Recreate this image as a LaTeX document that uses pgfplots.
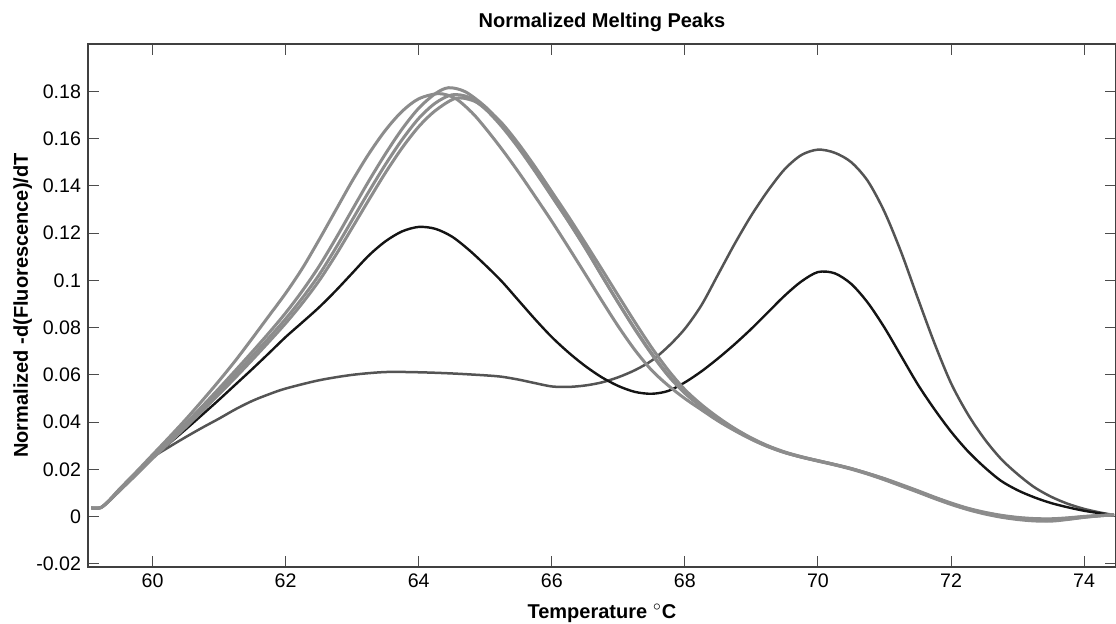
\documentclass[border=0pt]{standalone}
\usepackage{fontspec}
\setmainfont{Liberation Sans}
\usepackage{pgfplots}
\pgfplotsset{compat=1.18}

\definecolor{lightcurve}{gray}{0.55}
\definecolor{darkcurve}{gray}{0.33}
\definecolor{blackcurve}{gray}{0.08}

\begin{document}
\begin{tikzpicture}
\begin{axis}[
  scale only axis,
  width=514pt, height=261.5pt,
  xmin=59.03, xmax=74.48,
  ymin=-0.0213, ymax=0.2,
  xtick={60,62,...,74},
  ytick={-0.02,0,0.02,0.04,0.06,0.08,0.1,0.12,0.14,0.16,0.18},
  yticklabels={-0.02,0,0.02,0.04,0.06,0.08,0.1,0.12,0.14,0.16,0.18},
  /pgf/number format/assume math mode=true,
  tick label style={font=\fontsize{9.8}{11}\selectfont},
  tick align=inside,
  xtick pos=both, ytick pos=both,
  major tick length=5.5pt,
  every tick/.style={black!70, line width=0.5pt},
  axis line style={black!75, line width=0.6pt},
  title={Normalized Melting Peaks},
  title style={font=\bfseries\fontsize{10}{12}\selectfont, at={(axis description cs:0.5,1.0325)}, anchor=base, yshift=-6pt},
  xlabel={Temperature $^{\circ}$C},
  xlabel style={font=\bfseries\fontsize{10}{12}\selectfont, at={(axis description cs:0.5,-0.0975)}, anchor=base},
  ylabel={Normalized -d(Fluorescence)/dT},
  ylabel style={font=\bfseries\fontsize{10}{12}\selectfont, at={(axis description cs:-0.0584,0.5)}, anchor=base},
  every axis plot/.append style={smooth, tension=0.5},
  clip=true,
]

% two-peak sample, dark gray
\addplot[darkcurve, line width=1.25pt] coordinates {
 (59.08,0.0037) (59.22,0.0038) (59.35,0.0068) (59.5,0.0110) (59.75,0.0180)
 (60.0,0.0250) (60.25,0.0295) (60.5,0.0337) (60.75,0.0377) (61.0,0.0415)
 (61.25,0.0455) (61.5,0.0490) (61.75,0.0518) (62.0,0.0542) (62.5,0.0577)
 (63.0,0.0600) (63.5,0.0612) (64.0,0.0611) (64.5,0.0606) (65.0,0.0598)
 (65.25,0.0592) (65.5,0.0580) (65.75,0.0565) (66.0,0.0551) (66.25,0.0549)
 (66.5,0.0555) (66.75,0.0568) (67.0,0.0590) (67.25,0.0620) (67.5,0.0660)
 (67.75,0.0720) (68.0,0.0795) (68.25,0.0895) (68.5,0.1025) (68.75,0.1155)
 (69.0,0.1275) (69.25,0.1380) (69.5,0.1470) (69.75,0.1530) (70.0,0.1553)
 (70.25,0.1540) (70.5,0.1500) (70.75,0.1420) (71.0,0.1290) (71.25,0.1120)
 (71.5,0.0925) (71.75,0.0735) (72.0,0.0565) (72.25,0.0435) (72.5,0.0330)
 (72.75,0.0245) (73.0,0.0180) (73.25,0.0125) (73.5,0.0085) (73.75,0.0055)
 (74.0,0.0033) (74.25,0.0017) (74.45,0.0007)
};

% two-peak sample, black
\addplot[blackcurve, line width=1.2pt] coordinates {
 (59.08,0.0037) (59.22,0.0038) (59.35,0.0068) (59.5,0.0110) (59.75,0.0180)
 (60.0,0.0250) (60.25,0.0310) (60.5,0.0370) (60.75,0.0432) (61.0,0.0495)
 (61.25,0.0560) (61.5,0.0625) (61.75,0.0692) (62.0,0.0760) (62.25,0.0822)
 (62.5,0.0885) (62.75,0.0955) (63.0,0.1030) (63.25,0.1105) (63.5,0.1165)
 (63.75,0.1207) (64.0,0.1226) (64.25,0.1218) (64.5,0.1185) (64.75,0.1130)
 (65.0,0.1065) (65.25,0.0995) (65.5,0.0915) (65.75,0.0835) (66.0,0.0760)
 (66.25,0.0695) (66.5,0.0638) (66.75,0.0590) (67.0,0.0553) (67.25,0.0528)
 (67.5,0.0520) (67.75,0.0532) (68.0,0.0568) (68.25,0.0615) (68.5,0.0670)
 (68.75,0.0730) (69.0,0.0795) (69.25,0.0865) (69.5,0.0935) (69.75,0.0995)
 (70.0,0.1035) (70.25,0.1030) (70.5,0.0985) (70.75,0.0905) (71.0,0.0800)
 (71.25,0.0680) (71.5,0.0560) (71.75,0.0455) (72.0,0.0360) (72.25,0.0278)
 (72.5,0.0210) (72.75,0.0152) (73.0,0.0112) (73.25,0.0082) (73.5,0.0058)
 (73.75,0.0040) (74.0,0.0025) (74.25,0.0014) (74.45,0.0007)
};

% single-peak samples, light gray
\addplot[lightcurve, line width=1.5pt] coordinates {
 (59.08,0.0037) (59.22,0.0038) (59.35,0.0070) (59.5,0.0116) (59.75,0.0188)
 (60.0,0.0262) (60.25,0.0336) (60.5,0.0412) (60.75,0.0492) (61.0,0.0575)
 (61.25,0.0662) (61.5,0.0755) (61.75,0.0850) (62.0,0.0945) (62.25,0.1050)
 (62.5,0.1170) (62.75,0.1295) (63.0,0.1420) (63.25,0.1535) (63.5,0.1635)
 (63.75,0.1715) (64.0,0.1768) (64.3,0.1790) (64.55,0.1770) (64.8,0.1710)
 (65.0,0.1645) (65.25,0.1555) (65.5,0.1458) (65.75,0.1355) (66.0,0.1250)
 (66.25,0.1140) (66.5,0.1028) (66.75,0.0915) (67.0,0.0805) (67.25,0.0705)
 (67.5,0.0620) (67.75,0.0555) (68.0,0.0500) (68.25,0.0452) (68.5,0.0405)
 (68.75,0.0364) (69.0,0.0327) (69.25,0.0296) (69.5,0.0271) (69.75,0.0252)
 (70.0,0.0236) (70.25,0.0220) (70.5,0.0203) (70.75,0.0183) (71.0,0.0161)
 (71.25,0.0136) (71.5,0.0110) (71.75,0.0083) (72.0,0.0058) (72.25,0.0036)
 (72.5,0.0019) (72.75,0.0006) (73.0,-0.0003) (73.25,-0.0008) (73.5,-0.0009)
 (73.75,-0.0005) (74.0,0.0001) (74.25,0.0005) (74.45,0.0008)
};
\addplot[lightcurve, line width=1.5pt] coordinates {
 (59.08,0.0037) (59.22,0.0038) (59.35,0.0069) (59.5,0.0114) (59.75,0.0184)
 (60.0,0.0255) (60.25,0.0324) (60.5,0.0395) (60.75,0.0468) (61.0,0.0543)
 (61.25,0.0620) (61.5,0.0698) (61.75,0.0778) (62.0,0.0862) (62.25,0.0955)
 (62.5,0.1058) (62.75,0.1175) (63.0,0.1298) (63.25,0.1420) (63.5,0.1535)
 (63.75,0.1640) (64.0,0.1728) (64.25,0.1790) (64.45,0.1815) (64.7,0.1798)
 (65.0,0.1735) (65.25,0.1660) (65.5,0.1568) (65.75,0.1465) (66.0,0.1358)
 (66.25,0.1250) (66.5,0.1138) (66.75,0.1022) (67.0,0.0905) (67.25,0.0792)
 (67.5,0.0688) (67.75,0.0596) (68.0,0.0522) (68.25,0.0464) (68.5,0.0412)
 (68.75,0.0368) (69.0,0.0329) (69.25,0.0297) (69.5,0.0272) (69.75,0.0253)
 (70.0,0.0237) (70.25,0.0221) (70.5,0.0204) (70.75,0.0183) (71.0,0.0160)
 (71.25,0.0134) (71.5,0.0108) (71.75,0.0081) (72.0,0.0056) (72.25,0.0034)
 (72.5,0.0017) (72.75,0.0004) (73.0,-0.0005) (73.25,-0.0010) (73.5,-0.0011)
 (73.75,-0.0007) (74.0,0.0000) (74.25,0.0005) (74.45,0.0008)
};
\addplot[lightcurve, line width=1.5pt] coordinates {
 (59.08,0.0037) (59.22,0.0038) (59.35,0.0068) (59.5,0.0112) (59.75,0.0180)
 (60.0,0.0250) (60.25,0.0318) (60.5,0.0387) (60.75,0.0458) (61.0,0.0530)
 (61.25,0.0604) (61.5,0.0680) (61.75,0.0757) (62.0,0.0837) (62.25,0.0925)
 (62.5,0.1022) (62.75,0.1135) (63.0,0.1255) (63.25,0.1375) (63.5,0.1490)
 (63.75,0.1595) (64.0,0.1685) (64.25,0.1750) (64.5,0.1785) (64.75,0.1775)
 (65.0,0.1725) (65.25,0.1650) (65.5,0.1560) (65.75,0.1460) (66.0,0.1355)
 (66.25,0.1250) (66.5,0.1140) (66.75,0.1020) (67.0,0.0905) (67.25,0.0795)
 (67.5,0.0692) (67.75,0.0600) (68.0,0.0525) (68.25,0.0468) (68.5,0.0415)
 (68.75,0.0370) (69.0,0.0330) (69.25,0.0298) (69.5,0.0272) (69.75,0.0252)
 (70.0,0.0235) (70.25,0.0219) (70.5,0.0201) (70.75,0.0180) (71.0,0.0156)
 (71.25,0.0130) (71.5,0.0104) (71.75,0.0077) (72.0,0.0052) (72.25,0.0030)
 (72.5,0.0012) (72.75,-0.0002) (73.0,-0.0012) (73.25,-0.0018) (73.5,-0.0019)
 (73.75,-0.0012) (74.0,-0.0003) (74.25,0.0004) (74.45,0.0008)
};
\addplot[lightcurve, line width=1.5pt] coordinates {
 (59.08,0.0037) (59.22,0.0038) (59.35,0.0067) (59.5,0.0108) (59.75,0.0176)
 (60.0,0.0246) (60.25,0.0312) (60.5,0.0379) (60.75,0.0448) (61.0,0.0518)
 (61.25,0.0590) (61.5,0.0664) (61.75,0.0740) (62.0,0.0818) (62.25,0.0903)
 (62.5,0.0997) (62.75,0.1105) (63.0,0.1222) (63.25,0.1340) (63.5,0.1455)
 (63.75,0.1560) (64.0,0.1650) (64.25,0.1718) (64.55,0.1770) (64.8,0.1762)
 (65.0,0.1730) (65.25,0.1665) (65.5,0.1578) (65.75,0.1480) (66.0,0.1375)
 (66.25,0.1270) (66.5,0.1160) (66.75,0.1048) (67.0,0.0935) (67.25,0.0823)
 (67.5,0.0716) (67.75,0.0620) (68.0,0.0538) (68.25,0.0474) (68.5,0.0420)
 (68.75,0.0373) (69.0,0.0333) (69.25,0.0300) (69.5,0.0274) (69.75,0.0254)
 (70.0,0.0237) (70.25,0.0221) (70.5,0.0203) (70.75,0.0182) (71.0,0.0158)
 (71.25,0.0132) (71.5,0.0106) (71.75,0.0079) (72.0,0.0054) (72.25,0.0032)
 (72.5,0.0014) (72.75,0.0000) (73.0,-0.0009) (73.25,-0.0015) (73.5,-0.0016)
 (73.75,-0.0010) (74.0,-0.0002) (74.25,0.0004) (74.45,0.0008)
};
\end{axis}
\pgfresetboundingbox
\path[use as bounding box] ([xshift=-44pt,yshift=-28pt]current axis.south west) rectangle ([yshift=22pt]current axis.north east);
\end{tikzpicture}
\end{document}
